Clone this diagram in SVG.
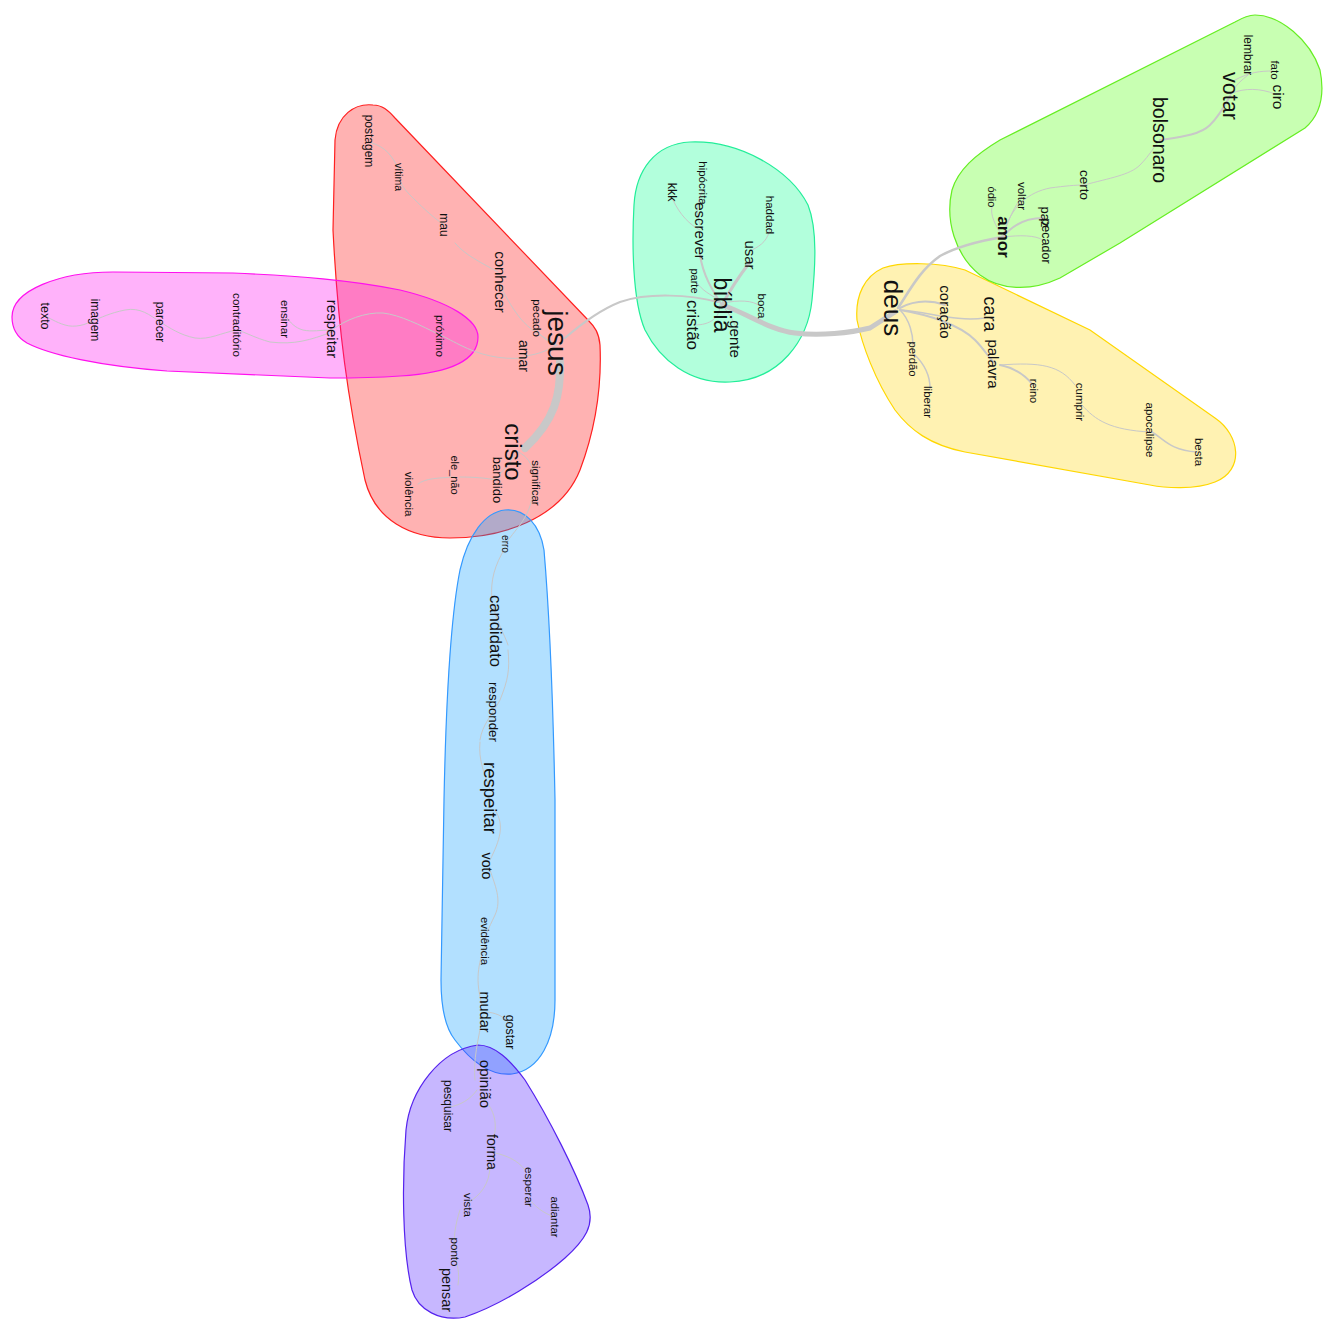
<svg xmlns="http://www.w3.org/2000/svg" width="1323" height="1319" viewBox="0 0 1323 1319">
<style>
.bg{fill:#ffffff}
.hull{stroke-width:1.2;fill-opacity:0.3}
.e{fill:none;stroke:#c8c8c8;stroke-linecap:round}
text{font-family:"Liberation Sans",Arial,sans-serif;fill:#111;text-anchor:middle;dominant-baseline:central}
</style>
<rect class="bg" x="0" y="0" width="1323" height="1319"/>
<g id="clusters">
<path id="c-red" class="hull" fill="#ff0000" stroke="#ff2020" d="M 373,105 C 355,103 337,115 335,140 L 333,230 C 338,330 348,400 365,480 C 375,520 410,538 450,538 C 500,538 560,520 580,470 C 595,430 602,390 600,345 C 599,333 595,327 588,320 L 395,118 C 388,110 382,105 373,105 Z"/>
<path id="c-pink" class="hull" fill="#ff00ee" stroke="#ff10ee" d="M 12,317 C 12,290 60,272 113,272 L 233,273 C 300,276 350,280 400,290 C 450,302 478,320 478,337 C 478,360 450,373 400,376 C 370,378 350,378 330,378 L 167,371 C 100,366 50,355 27,343 C 15,336 12,325 12,317 Z"/>
<path id="c-teal" class="hull" fill="#00ff8a" stroke="#22ee99" d="M 690,142 C 740,140 790,170 808,205 C 818,230 815,270 812,300 C 808,340 780,380 730,382 C 690,384 660,360 645,330 C 632,300 632,240 634,205 C 636,170 655,144 690,142 Z"/>
<path id="c-yellow" class="hull" fill="#ffd500" stroke="#ffd700" d="M 883,268 C 900,262 940,262 965,270 L 1090,330 L 1215,418 C 1240,435 1245,470 1215,482 C 1195,490 1165,488 1150,485 L 965,452 C 930,445 910,430 895,410 C 875,380 862,345 857,320 C 855,295 865,276 883,268 Z"/>
<path id="c-green" class="hull" fill="#48ff00" stroke="#66ee22" d="M 1255,15 C 1280,15 1310,40 1320,70 C 1325,95 1320,115 1305,128 L 1120,243 L 1060,278 C 1030,292 1000,290 980,275 C 955,255 945,220 952,190 C 958,170 975,155 1000,140 L 1235,22 C 1242,18 1248,15 1255,15 Z"/>
<path id="c-blue" class="hull" fill="#0099ff" stroke="#3399ff" d="M 505,510 C 525,508 540,525 544,550 C 550,620 553,700 555,800 L 555,1000 C 555,1040 540,1070 512,1074 C 490,1076 470,1060 455,1040 C 443,1025 441,1000 441,980 L 444,800 C 446,700 450,620 460,570 C 468,535 485,512 505,510 Z"/>
<path id="c-purple" class="hull" fill="#4410ff" stroke="#5522ee" d="M 478,1045 C 495,1045 510,1060 525,1080 C 550,1120 575,1170 588,1205 C 595,1225 585,1240 565,1258 C 540,1280 500,1305 465,1317 C 440,1322 418,1310 412,1290 C 402,1250 402,1180 406,1130 C 410,1090 440,1050 478,1045 Z"/>
</g>
<g id="connectors">
<path class="e" stroke-width="8" d="M 560,362 C 561,395 555,420 525,448"/>
<path class="e" stroke-width="2" d="M 565,338 C 580,325 600,310 620,302 C 650,292 690,295 718,302"/>
<path class="e" stroke-width="5" d="M 725,306 C 750,315 770,330 795,333 C 820,336 850,333 870,328 L 895,312"/>
<path class="e" stroke-width="2.5" d="M 898,308 C 910,290 920,270 940,256 C 960,245 985,240 1003,237"/>
<path class="e" stroke-width="2" d="M 900,308 C 915,300 930,300 945,305"/>
<path class="e" stroke-width="1.5" d="M 900,310 C 930,312 955,322 985,318"/>
<path class="e" stroke-width="2" d="M 900,310 C 930,315 960,325 975,340 C 985,350 990,360 995,363"/>
<path class="e" stroke-width="1.5" d="M 900,310 C 910,320 913,335 913,345"/>
<path class="e" stroke-width="2" d="M 1000,365 C 1015,368 1025,375 1033,385"/>
<path class="e" stroke-width="1" d="M 1000,365 C 1040,362 1060,365 1075,385"/>
<path class="e" stroke-width="1" d="M 1082,405 C 1095,420 1110,430 1150,432"/>
<path class="e" stroke-width="1.5" d="M 1152,432 C 1165,440 1170,450 1197,452"/>
<path class="e" stroke-width="1.5" d="M 915,355 C 925,365 930,375 930,388"/>
<path class="e" stroke-width="1" d="M 1003,237 C 995,225 990,215 992,207"/>
<path class="e" stroke-width="1" d="M 1003,237 C 1008,220 1015,205 1022,197"/>
<path class="e" stroke-width="2" d="M 1003,237 C 1015,222 1030,218 1043,218"/>
<path class="e" stroke-width="1" d="M 1003,237 C 1020,235 1035,235 1043,240"/>
<path class="e" stroke-width="1" d="M 1003,237 C 1010,205 1030,192 1050,188 C 1065,186 1075,185 1084,185"/>
<path class="e" stroke-width="1" d="M 1084,185 C 1110,178 1130,175 1140,165 C 1150,155 1155,145 1160,140"/>
<path class="e" stroke-width="2" d="M 1160,140 C 1180,137 1200,135 1210,125 C 1220,115 1225,105 1230,96"/>
<path class="e" stroke-width="1" d="M 1230,96 C 1235,85 1242,80 1248,75"/>
<path class="e" stroke-width="1" d="M 1235,80 C 1250,72 1260,71 1273,71"/>
<path class="e" stroke-width="1" d="M 1232,93 C 1245,88 1260,88 1275,94"/>
<path class="e" stroke-width="2" d="M 722,305 C 712,290 703,275 700,255"/>
<path class="e" stroke-width="1" d="M 700,225 C 695,210 698,200 703,190"/>
<path class="e" stroke-width="1" d="M 700,230 C 690,225 680,215 673,200"/>
<path class="e" stroke-width="3" d="M 722,305 C 730,290 740,275 750,262"/>
<path class="e" stroke-width="1" d="M 752,250 C 762,245 768,240 770,228"/>
<path class="e" stroke-width="1" d="M 720,300 C 710,295 702,290 697,283"/>
<path class="e" stroke-width="1" d="M 722,303 C 740,300 752,300 760,306"/>
<path class="e" stroke-width="1" d="M 720,305 C 720,318 710,325 695,325"/>
<path class="e" stroke-width="1" d="M 722,305 C 730,315 735,322 737,332"/>
<path class="e" stroke-width="1" d="M 557,345 C 540,335 530,330 520,318 C 510,305 505,295 500,285"/>
<path class="e" stroke-width="1" d="M 498,272 C 480,262 465,255 455,243"/>
<path class="e" stroke-width="1" d="M 444,225 C 430,215 420,205 410,195 C 403,188 400,182 399,178"/>
<path class="e" stroke-width="1" d="M 399,170 C 392,155 385,147 372,143"/>
<path class="e" stroke-width="1" d="M 555,345 C 545,340 540,335 537,330"/>
<path class="e" stroke-width="1" d="M 557,345 C 545,352 535,355 524,356"/>
<path class="e" stroke-width="1" d="M 524,358 C 500,360 480,355 460,345 C 450,340 445,337 440,335"/>
<path class="e" stroke-width="1" d="M 440,335 C 420,325 400,315 383,313 C 365,312 345,320 332,330"/>
<path class="e" stroke-width="1" d="M 332,330 C 320,330 312,332 303,330 C 295,328 290,322 287,318"/>
<path class="e" stroke-width="1" d="M 332,332 C 310,340 295,345 270,342 C 255,338 245,332 237,330"/>
<path class="e" stroke-width="1" d="M 237,330 C 220,333 210,340 195,338 C 180,335 170,328 160,322"/>
<path class="e" stroke-width="1" d="M 160,322 C 150,315 140,307 125,310 C 110,313 100,318 95,320"/>
<path class="e" stroke-width="1" d="M 95,320 C 85,325 75,328 65,325 C 55,322 50,318 45,316"/>
<path class="e" stroke-width="1" d="M 515,455 C 508,465 503,470 497,478"/>
<path class="e" stroke-width="1" d="M 497,480 C 485,478 475,477 460,477"/>
<path class="e" stroke-width="1" d="M 455,477 C 440,478 425,478 418,484"/>
<path class="e" stroke-width="1" d="M 515,450 C 525,455 530,460 533,470"/>
<path class="e" stroke-width="1" d="M 533,490 C 532,505 527,515 520,525 C 512,535 508,540 505,545"/>
<path class="e" stroke-width="1" d="M 505,548 C 495,565 490,580 492,600 C 495,620 505,635 508,645"/>
<path class="e" stroke-width="1" d="M 508,650 C 510,670 508,680 500,700 C 492,715 482,725 480,740"/>
<path class="e" stroke-width="1" d="M 480,742 C 478,760 485,775 490,790"/>
<path class="e" stroke-width="1" d="M 495,810 C 505,825 500,840 490,860"/>
<path class="e" stroke-width="1" d="M 490,870 C 495,885 502,900 495,915 C 488,930 485,935 485,940"/>
<path class="e" stroke-width="1" d="M 485,945 C 478,965 475,980 482,1005"/>
<path class="e" stroke-width="1" d="M 487,1012 C 495,1013 502,1015 508,1022"/>
<path class="e" stroke-width="1" d="M 483,1015 C 478,1040 473,1060 475,1080"/>
<path class="e" stroke-width="1" d="M 477,1090 C 470,1100 460,1105 450,1107"/>
<path class="e" stroke-width="1" d="M 483,1098 C 495,1110 498,1125 493,1140"/>
<path class="e" stroke-width="1" d="M 495,1153 C 505,1155 518,1160 525,1170"/>
<path class="e" stroke-width="1" d="M 530,1200 C 538,1210 548,1215 555,1217"/>
<path class="e" stroke-width="1" d="M 490,1165 C 490,1185 480,1195 468,1203"/>
<path class="e" stroke-width="1" d="M 460,1210 C 455,1225 453,1240 455,1250"/>
<path class="e" stroke-width="1" d="M 455,1255 C 457,1265 460,1272 458,1285"/>
</g>
<g id="n-postagem"><text font-size="12" transform="translate(369,141) rotate(90)">postagem</text></g>
<g id="n-vitima"><text font-size="10.5" transform="translate(399,177) rotate(90)">vítima</text></g>
<g id="n-mau"><text font-size="12" transform="translate(444,225) rotate(90)">mau</text></g>
<g id="n-conhecer"><text font-size="15" transform="translate(500,282) rotate(90)">conhecer</text></g>
<g id="n-pecado"><text font-size="11.5" transform="translate(537,318) rotate(90)">pecado</text></g>
<g id="n-jesus"><text font-size="28" transform="translate(557,343) rotate(90)">jesus</text></g>
<g id="n-amar"><text font-size="14" transform="translate(524,356) rotate(90)">amar</text></g>
<g id="n-cristo"><text font-size="24" transform="translate(513,452) rotate(90)">cristo</text></g>
<g id="n-bandido"><text font-size="13" transform="translate(497,480) rotate(90)">bandido</text></g>
<g id="n-significar"><text font-size="11.5" transform="translate(536,483) rotate(90)">significar</text></g>
<g id="n-ele_nao"><text font-size="11" transform="translate(455,475) rotate(90)">ele_não</text></g>
<g id="n-violencia"><text font-size="11.5" transform="translate(409,494) rotate(90)">violência</text></g>
<g id="n-texto"><text font-size="12.5" transform="translate(45,316) rotate(90)">texto</text></g>
<g id="n-imagem"><text font-size="12" transform="translate(95,320) rotate(90)">imagem</text></g>
<g id="n-parecer"><text font-size="12" transform="translate(160,322) rotate(90)">parecer</text></g>
<g id="n-contraditorio"><text font-size="11.6" transform="translate(237,325) rotate(90)">contraditório</text></g>
<g id="n-ensinar"><text font-size="11.6" transform="translate(285,319) rotate(90)">ensinar</text></g>
<g id="n-respeitar1"><text font-size="15" transform="translate(332,329) rotate(90)">respeitar</text></g>
<g id="n-proximo"><text font-size="11.8" transform="translate(440,336) rotate(90)">próximo</text></g>
<g id="n-hipocrita"><text font-size="11.5" transform="translate(703,183) rotate(90)">hipócrita</text></g>
<g id="n-kkk"><text font-size="12.5" transform="translate(672,192) rotate(90)">kkk</text></g>
<g id="n-escrever"><text font-size="15" transform="translate(700,231) rotate(90)">escrever</text></g>
<g id="n-haddad"><text font-size="11.5" transform="translate(770,215) rotate(90)">haddad</text></g>
<g id="n-usar"><text font-size="15" transform="translate(750,255) rotate(90)">usar</text></g>
<g id="n-parte"><text font-size="11" transform="translate(695,281) rotate(90)">parte</text></g>
<g id="n-biblia"><text font-size="23" transform="translate(722,305) rotate(90)">bíblia</text></g>
<g id="n-boca"><text font-size="11.5" transform="translate(762,306) rotate(90)">boca</text></g>
<g id="n-cristao"><text font-size="17" transform="translate(692,325) rotate(90)">cristão</text></g>
<g id="n-gente"><text font-size="15" transform="translate(735,339) rotate(90)">gente</text></g>
<g id="n-deus"><text font-size="26" transform="translate(893,308) rotate(90)">deus</text></g>
<g id="n-coracao"><text font-size="15" transform="translate(945,312) rotate(90)">coração</text></g>
<g id="n-cara"><text font-size="18" transform="translate(990,314) rotate(90)">cara</text></g>
<g id="n-palavra"><text font-size="15" transform="translate(993,364) rotate(90)">palavra</text></g>
<g id="n-perdao"><text font-size="11.3" transform="translate(913,359) rotate(90)">perdão</text></g>
<g id="n-liberar"><text font-size="11.5" transform="translate(928,402) rotate(90)">liberar</text></g>
<g id="n-reino"><text font-size="11" transform="translate(1034,391) rotate(90)">reino</text></g>
<g id="n-cumprir"><text font-size="11.5" transform="translate(1080,402) rotate(90)">cumprir</text></g>
<g id="n-apocalipse"><text font-size="11.5" transform="translate(1150,430) rotate(90)">apocalipse</text></g>
<g id="n-besta"><text font-size="11.5" transform="translate(1199,452) rotate(90)">besta</text></g>
<g id="n-lembrar"><text font-size="12" transform="translate(1248,55) rotate(90)">lembrar</text></g>
<g id="n-fato"><text font-size="11.5" transform="translate(1275,70) rotate(90)">fato</text></g>
<g id="n-votar"><text font-size="21.5" transform="translate(1230,96) rotate(90)">votar</text></g>
<g id="n-ciro"><text font-size="15.5" transform="translate(1278,97) rotate(90)">ciro</text></g>
<g id="n-bolsonaro"><text font-size="19.6" transform="translate(1160,140) rotate(90)">bolsonaro</text></g>
<g id="n-certo"><text font-size="13.5" transform="translate(1084,185) rotate(90)">certo</text></g>
<g id="n-odio"><text font-size="11" transform="translate(992,197) rotate(90)">ódio</text></g>
<g id="n-voltar"><text font-size="11.5" transform="translate(1022,196) rotate(90)">voltar</text></g>
<g id="n-amor"><text font-size="17" font-weight="bold" transform="translate(1003,237) rotate(90)">amor</text></g>
<g id="n-paz"><text font-size="13" transform="translate(1045,217) rotate(90)">paz</text></g>
<g id="n-pecador"><text font-size="12.5" transform="translate(1046,241) rotate(90)">pecador</text></g>
<g id="n-erro"><text font-size="10" transform="translate(505,544) rotate(90)">erro</text></g>
<g id="n-candidato"><text font-size="16.6" transform="translate(495,631) rotate(90)">candidato</text></g>
<g id="n-responder"><text font-size="13.3" transform="translate(493,712) rotate(90)">responder</text></g>
<g id="n-respeitar2"><text font-size="18.5" transform="translate(490,798) rotate(90)">respeitar</text></g>
<g id="n-voto"><text font-size="14.3" transform="translate(487,866) rotate(90)">voto</text></g>
<g id="n-evidencia"><text font-size="11.4" transform="translate(485,941) rotate(90)">evidência</text></g>
<g id="n-mudar"><text font-size="14.5" transform="translate(485,1012) rotate(90)">mudar</text></g>
<g id="n-gostar"><text font-size="12.5" transform="translate(510,1032) rotate(90)">gostar</text></g>
<g id="n-opiniao"><text font-size="15" transform="translate(485,1084) rotate(90)">opinião</text></g>
<g id="n-pesquisar"><text font-size="12" transform="translate(448,1106) rotate(90)">pesquisar</text></g>
<g id="n-forma"><text font-size="14" transform="translate(492,1152) rotate(90)">forma</text></g>
<g id="n-esperar"><text font-size="11.8" transform="translate(529,1187) rotate(90)">esperar</text></g>
<g id="n-adiantar"><text font-size="11.4" transform="translate(555,1217) rotate(90)">adiantar</text></g>
<g id="n-vista"><text font-size="11.6" transform="translate(468,1205) rotate(90)">vista</text></g>
<g id="n-ponto"><text font-size="11.6" transform="translate(455,1252) rotate(90)">ponto</text></g>
<g id="n-pensar"><text font-size="14.4" transform="translate(447,1290) rotate(90)">pensar</text></g>
</svg>
